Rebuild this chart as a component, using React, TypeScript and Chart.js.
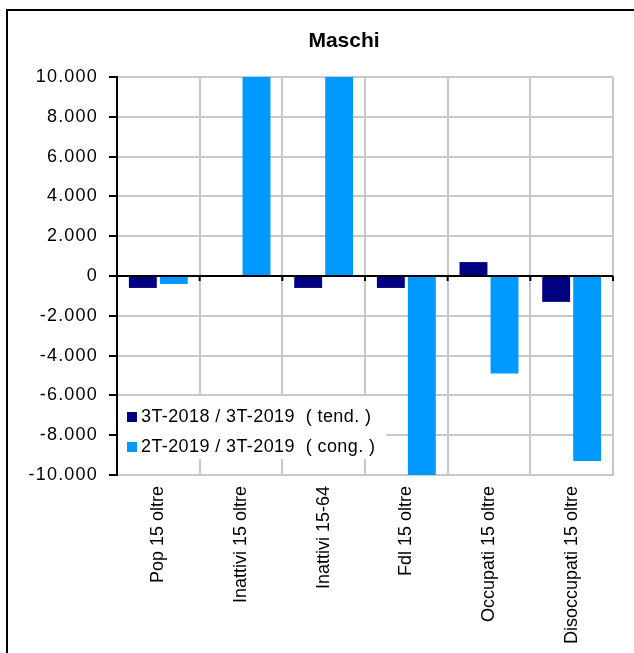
import React, { useEffect, useRef } from "react";
import { Chart, registerables } from "chart.js";

Chart.register(...registerables);

const categories = [
  "Pop 15 oltre",
  "Inattivi 15 oltre",
  "Inattivi 15-64",
  "Fdl 15 oltre",
  "Occupati 15 oltre",
  "Disoccupati 15 oltre",
];
const titleText = "Maschi";
const tendLabel = "3T-2018 / 3T-2019  ( tend. )";
const congLabel = "2T-2019 / 3T-2019  ( cong. )";
const tendValues = [-600, 0, -600, -600, 700, -1300];
const congValues = [-400, 13800, 13200, -14200, -4900, -9300];
const yMin = -10000;
const yMax = 10000;
const yStep = 2000;

const FONT = "'Liberation Sans', Arial, sans-serif";

function fmt(v: number): string {
  const neg = v < 0;
  const s = Math.abs(Math.round(v)).toString();
  const withDots = s.replace(/\B(?=(\d{3})+(?!\d))/g, ".");
  return (neg ? "-" : "") + withDots;
}

const titlePlugin = {
  id: "customTitle",
  afterDraw(chart: any) {
    const { ctx, chartArea } = chart;
    ctx.save();
    try {
      (ctx as any).letterSpacing = "0px";
    } catch (e) {}
    ctx.font = "bold 21px " + FONT;
    ctx.fillStyle = "#000";
    ctx.textAlign = "center";
    ctx.textBaseline = "middle";
    ctx.fillText(titleText, (chartArea.left + chartArea.right) / 2 - 21, chartArea.top - 36);
    ctx.restore();
  },
};

const zeroLinePlugin = {
  id: "zeroLine",
  afterDatasetsDraw(chart: any) {
    const { ctx, chartArea, scales } = chart;
    const y0 = scales.y.getPixelForValue(0);
    ctx.save();
    ctx.strokeStyle = "#000";
    ctx.lineWidth = 2;
    ctx.beginPath();
    ctx.moveTo(chartArea.left, y0);
    ctx.lineTo(chartArea.right, y0);
    for (let i = 0; i < categories.length; i++) {
      const x = scales.x.getPixelForValue(i + 0.5);
      ctx.moveTo(x, y0);
      ctx.lineTo(x, y0 + 5);
    }
    ctx.stroke();
    ctx.restore();
  },
};

const legendInsidePlugin = {
  id: "legendInside",
  afterDatasetsDraw(chart: any) {
    const { ctx, chartArea } = chart;
    ctx.save();
    ctx.font = "18px " + FONT;
    try {
      (ctx as any).letterSpacing = "0.4px";
    } catch (e) {}
    const items = chart.data.datasets.map((d: any) => ({
      text: d.label,
      color: d.backgroundColor,
    }));
    const maxW = Math.max(...items.map((i: any) => ctx.measureText(i.text).width));
    const left = chartArea.left + 1.5;
    const top = chartArea.bottom - 79;
    const textX = chartArea.left + 24;
    const boxRight = textX + maxW + 11;
    ctx.fillStyle = "#fff";
    ctx.fillRect(left, top, boxRight - left, 63);
    items.forEach((it: any, i: number) => {
      const cy = top + 21 + i * 30;
      ctx.fillStyle = it.color;
      ctx.fillRect(chartArea.left + 10, cy - 5, 10, 10);
      ctx.fillStyle = "#000";
      ctx.textBaseline = "middle";
      ctx.textAlign = "left";
      ctx.fillText(it.text, textX, cy);
    });
    ctx.restore();
    // y tick labels (z: 1) are drawn after this hook: widen them slightly
    try {
      (ctx as any).letterSpacing = "1.2px";
    } catch (e) {}
  },
  afterDraw(chart: any) {
    try {
      (chart.ctx as any).letterSpacing = "0px";
    } catch (e) {}
  },
};

export default function App() {
  const ref = useRef<HTMLCanvasElement | null>(null);

  useEffect(() => {
    if (!ref.current) return;
    Chart.defaults.font.family = FONT;
    Chart.defaults.color = "#000";
    const chart = new Chart(ref.current, {
      type: "bar",
      data: {
        labels: categories,
        datasets: [
          {
            label: tendLabel,
            data: tendValues,
            backgroundColor: "#000080",
            categoryPercentage: 0.75,
            barPercentage: 0.9,
          },
          {
            label: congLabel,
            data: congValues,
            backgroundColor: "#0099ff",
            categoryPercentage: 0.75,
            barPercentage: 0.9,
          },
        ],
      },
      options: {
        animation: false,
        responsive: false,
        devicePixelRatio: 1,
        layout: { padding: { left: 0, right: 21, top: 77, bottom: 0 } },
        plugins: {
          legend: { display: false },
          tooltip: { enabled: false },
          title: { display: false },
        },
        scales: {
          x: {
            afterFit: (s: any) => {
              s.height = 178;
            },
            grid: {
              color: "#c8c8c8",
              lineWidth: 2,
              drawTicks: false,
              offset: true,
            },
            border: { color: "#c8c8c8", width: 2 },
            ticks: {
              autoSkip: false,
              minRotation: 90,
              maxRotation: 90,
              padding: 11,
              color: "#000",
              font: { size: 18, family: FONT },
            },
          },
          y: {
            min: yMin,
            max: yMax,
            afterFit: (s: any) => {
              s.width = 117;
            },
            grid: {
              color: (c: any) => (c.tick && c.tick.value === 0 ? "#000" : "#c8c8c8"),
              lineWidth: 2,
              tickColor: "#000",
              tickLength: 8,
              drawTicks: true,
            },
            border: { color: "#000", width: 2 },
            ticks: {
              z: 1,
              stepSize: yStep,
              padding: 11,
              color: "#000",
              font: { size: 18, family: FONT },
              callback: (v: any) => fmt(Number(v)),
            },
          },
        },
      },
      plugins: [zeroLinePlugin, legendInsidePlugin, titlePlugin],
    });
    return () => chart.destroy();
  }, []);

  return (
    <div
      style={{
        position: "fixed",
        left: 0,
        top: 0,
        width: 634,
        height: 653,
        background: "#fff",
        overflow: "hidden",
      }}
    >
      <div
        style={{
          position: "absolute",
          left: 6,
          top: 9,
          width: 660,
          height: 680,
          border: "2px solid #000",
          boxSizing: "border-box",
        }}
      />
      <canvas
        ref={ref}
        width={634}
        height={653}
        style={{ position: "absolute", left: 0, top: 0, width: 634, height: 653 }}
      />
    </div>
  );
}
